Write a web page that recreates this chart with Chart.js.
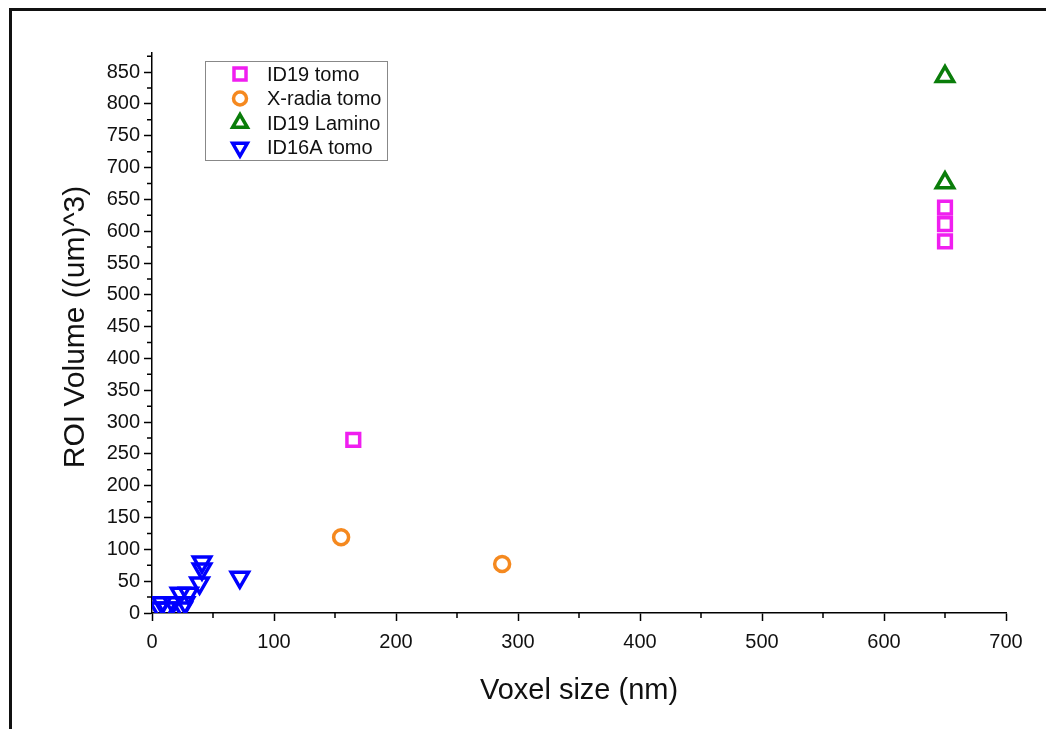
<!DOCTYPE html>
<html>
<head>
<meta charset="utf-8">
<script src="https://cdn.jsdelivr.net/npm/chart.js@4/dist/chart.umd.min.js"></script>
<style>
  html, body { margin: 0; padding: 0; background: #fff; }
  #wrap { position: relative; width: 1046px; height: 729px; overflow: hidden; }
  #chart { position: absolute; left: 0; top: 0; }
  #frame { position: absolute; left: 9px; top: 8px; right: -5px; bottom: -5px;
           border-top: 3px solid #111; border-left: 3px solid #111; pointer-events: none; }
</style>
</head>
<body>
<div id="wrap">
  <canvas id="chart" width="1046" height="729"></canvas>
  <div id="frame"></div>
</div>
<script>
// data
const id19TomoX = [165, 650, 650, 650];
const id19TomoY = [272, 637, 611, 584];
const xradiaX = [155, 287];
const xradiaY = [119, 77];
const laminoX = [650, 650];
const laminoY = [843, 676];
const id16aX = [41, 41, 39, 23, 30, 8, 17, 27, 6, 12, 25, 72];
const id16aY = [80, 69, 47, 31, 31, 16, 16, 16, 8, 8, 8, 56];

const xTicks = [0, 100, 200, 300, 400, 500, 600, 700];
const yTicks = [0, 50, 100, 150, 200, 250, 300, 350, 400, 450, 500, 550, 600, 650, 700, 750, 800, 850];

const FONT = "'Liberation Sans', Arial, sans-serif";

function pts(xs, ys) {
    return xs.map((x, i) => ({ x: x, y: ys[i] }));
}

function series(label, xs, ys, color, style, radius, rotation) {
    return {
        label: label,
        data: pts(xs, ys),
        pointStyle: style,
        pointRadius: radius,
        pointRotation: rotation || 0,
        pointBorderWidth: 3.5,
        pointBorderColor: color,
        pointBackgroundColor: 'rgba(0,0,0,0)',
        borderColor: color,
        showLine: false
    };
}

// minor ticks, axis titles and the boxed legend
const extras = {
    id: 'extras',
    afterDraw(chart) {
        const ctx = chart.ctx;
        const xs = chart.scales.x, ys = chart.scales.y;
        const area = chart.chartArea;
        ctx.save();
        ctx.strokeStyle = '#000';
        ctx.lineWidth = 1.5;
        ctx.beginPath();
        for (let v = 25; v <= 875; v += 50) {
            const py = ys.getPixelForValue(v);
            ctx.moveTo(area.left, py);
            ctx.lineTo(area.left - 5, py);
        }
        for (let v = 50; v < 700; v += 100) {
            const px = xs.getPixelForValue(v);
            ctx.moveTo(px, area.bottom);
            ctx.lineTo(px, area.bottom + 5);
        }
        ctx.stroke();

        // axis titles
        ctx.fillStyle = '#111';
        ctx.textAlign = 'center';
        ctx.textBaseline = 'middle';
        ctx.font = '29px ' + FONT;
        ctx.fillText('Voxel size (nm)', (area.left + area.right) / 2, area.bottom + 78);
        ctx.save();
        ctx.font = '30px ' + FONT;
        ctx.translate(76, (area.top + area.bottom) / 2 - 6);
        ctx.rotate(-Math.PI / 2);
        ctx.fillText('ROI Volume ((um)^3)', 0, 0);
        ctx.restore();

        // legend
        ctx.strokeStyle = '#888';
        ctx.lineWidth = 1;
        ctx.strokeRect(205.5, 61.5, 182, 99);
        ctx.font = '20px ' + FONT;
        ctx.textAlign = 'left';
        chart.data.datasets.forEach((ds, i) => {
            const y = 74 + i * 24.5;
            ctx.strokeStyle = ds.pointBorderColor;
            ctx.fillStyle = 'rgba(0,0,0,0)';
            ctx.lineWidth = 3.5;
            Chart.helpers.drawPoint(ctx, {
                pointStyle: ds.pointStyle,
                rotation: ds.pointRotation,
                radius: ds.pointStyle === 'circle' ? 6.5 : 8.5,
                borderWidth: 3.5
            }, 240, y);
            ctx.fillStyle = '#111';
            ctx.fillText(ds.label, 267, y + 1);
        });
        ctx.restore();
    }
};

new Chart(document.getElementById('chart'), {
    type: 'scatter',
    data: {
        datasets: [
            series('ID19 tomo', id19TomoX, id19TomoY, '#f01ef0', 'rect', 9),
            series('X-radia tomo', xradiaX, xradiaY, '#f5891f', 'circle', 7.5),
            series('ID19 Lamino', laminoX, laminoY, '#0a7d0a', 'triangle', 10),
            series('ID16A tomo', id16aX, id16aY, '#0000ff', 'triangle', 10, 180)
        ]
    },
    options: {
        responsive: false,
        animation: false,
        devicePixelRatio: 1,
        layout: { padding: { top: 53, right: 40, left: 0, bottom: 0 } },
        plugins: { legend: { display: false }, tooltip: { enabled: false } },
        scales: {
            x: {
                type: 'linear',
                min: 0,
                max: 700,
                afterBuildTicks: s => { s.ticks = xTicks.map(v => ({ value: v })); },
                afterFit: s => { s.height = 116; },
                ticks: { color: '#111', font: { family: FONT, size: 20 }, padding: 9, maxRotation: 0 },
                grid: { drawOnChartArea: false, drawTicks: true, tickLength: 8, color: '#000', tickWidth: 1.5 },
                border: { display: true, color: '#000', width: 1.5 }
            },
            y: {
                type: 'linear',
                min: 0,
                max: 880,
                afterBuildTicks: s => { s.ticks = yTicks.map(v => ({ value: v })); },
                afterFit: s => { s.width = 152; },
                ticks: { color: '#111', font: { family: FONT, size: 20 }, padding: 4 },
                grid: { drawOnChartArea: false, drawTicks: true, tickLength: 8, color: '#000', tickWidth: 1.5 },
                border: { display: true, color: '#000', width: 1.5 }
            }
        }
    },
    plugins: [extras]
});
</script>
</body>
</html>
